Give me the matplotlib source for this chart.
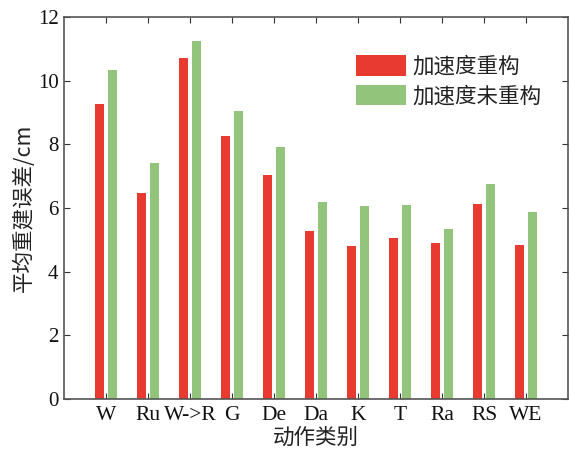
import numpy as np
import matplotlib.pyplot as plt

plt.rcParams['font.family'] = ['Liberation Serif', 'Noto Sans CJK SC']

categories = ['W', 'Ru', 'W->R', 'G', 'De', 'Da', 'K', 'T', 'Ra', 'RS', 'WE']
recon = [9.27, 6.46, 10.70, 8.26, 7.03, 5.28, 4.80, 5.05, 4.89, 6.13, 4.83]
no_recon = [10.34, 7.40, 11.26, 9.06, 7.92, 6.20, 6.06, 6.09, 5.33, 6.74, 5.87]

x = np.arange(1, len(categories) + 1)
w = 0.21

fig = plt.figure(figsize=(5.69, 4.5), dpi=100)
ax = fig.add_axes([0.1125, 0.1133, 0.886, 0.849])

ax.bar(x - 0.155, recon, width=w, color='#E83A31', label='加速度重构')
ax.bar(x + 0.155, no_recon, width=w, color='#92C47B', label='加速度未重构')

ax.set_xlim(0, 12)
ax.set_ylim(0, 12)
ax.set_xticks(x)
ax.set_xticklabels(categories)
ax.set_yticks(np.arange(0, 13, 2))
ax.tick_params(direction='in', length=4, top=True, right=True,
               labelsize=15, color='#333333', labelcolor='#111111')
ax.tick_params(axis='x', pad=5, labelsize=15.5)
ax.tick_params(axis='y', pad=4)
for s in ax.spines.values():
    s.set_color('#555555')
    s.set_linewidth(1.2)

cjk = ['Noto Sans CJK SC']
ax.set_xlabel('动作类别', fontsize=15.5, family=cjk, labelpad=1, color='#222222')
ax.set_ylabel('平均重建误差/cm', fontsize=15.5, family=cjk, labelpad=2, color='#222222')

ax.legend(loc='upper right', bbox_to_anchor=(0.985, 0.95), frameon=False,
          prop={'family': cjk, 'size': 15.5}, handlelength=2.3, handleheight=1.1,
          handletextpad=0.3, labelspacing=0.3, labelcolor='#222222')

fig.savefig('out.png', dpi=100)
